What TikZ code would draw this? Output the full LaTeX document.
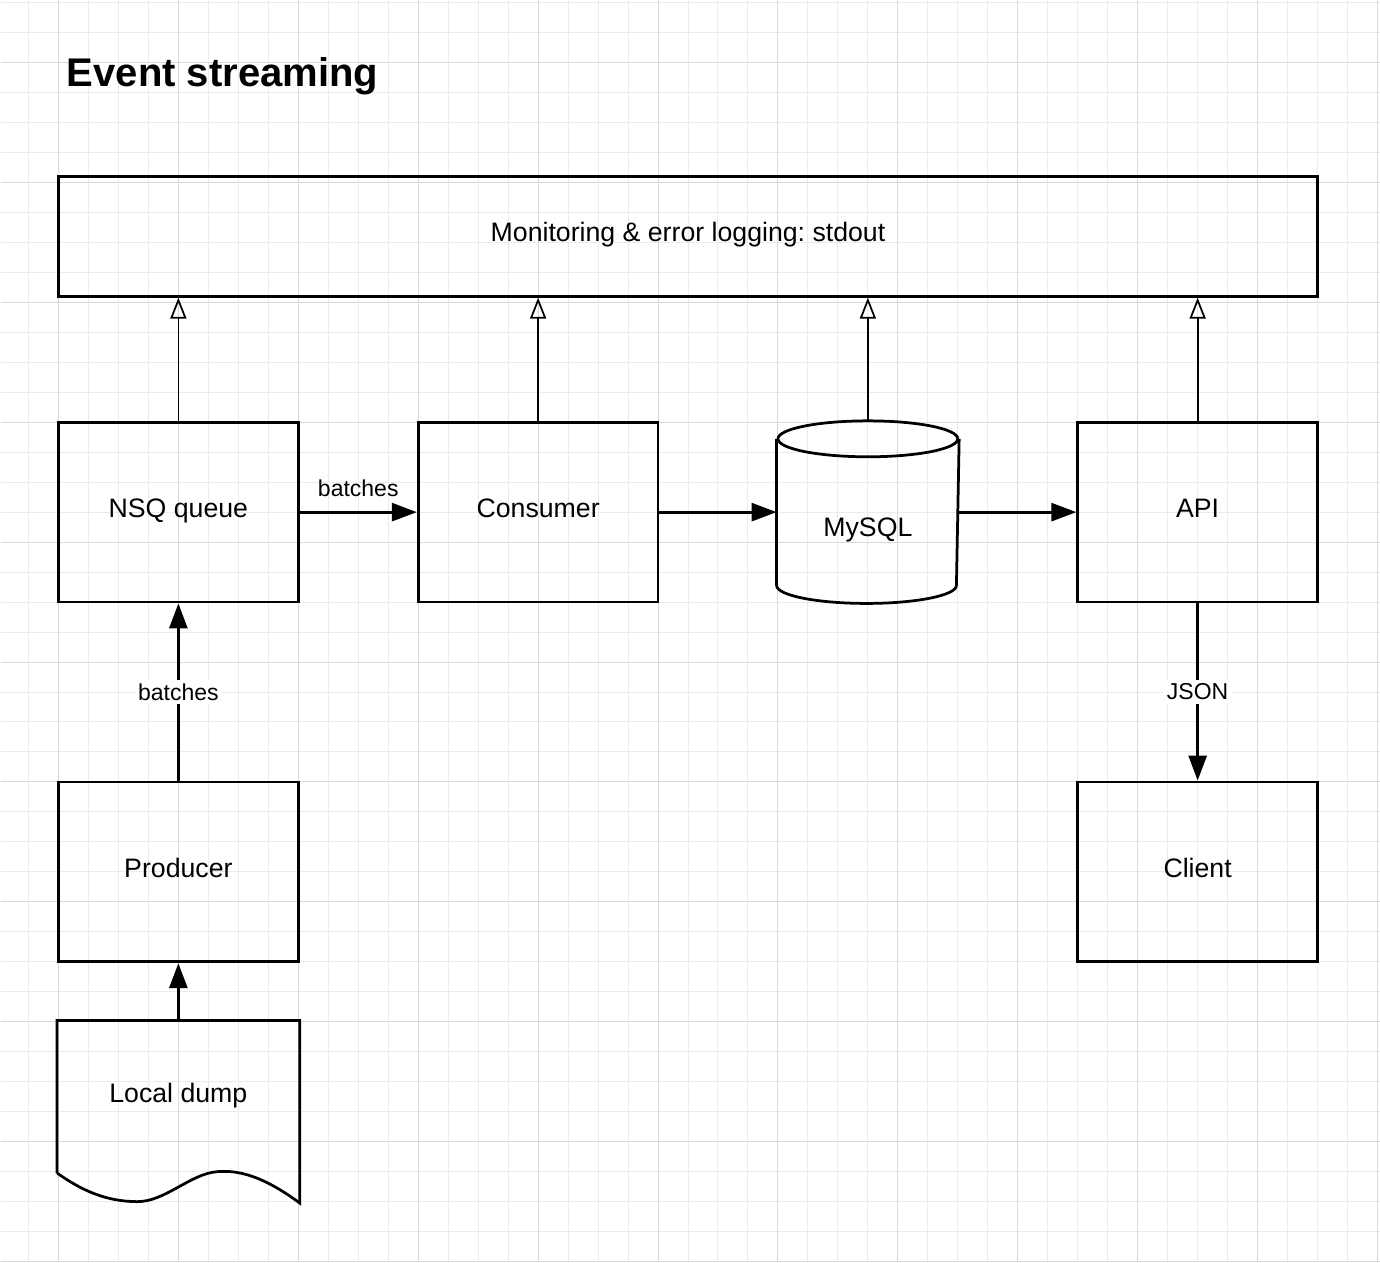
\documentclass[tikz,border=0pt]{standalone}
\usepackage{fontspec}
\setmainfont{Liberation Sans}
\usetikzlibrary{arrows.meta}
\frenchspacing
\begin{document}
\begin{tikzpicture}[x=0.02cm,y=-0.02cm,
	box/.style={draw,line width=0.055cm,minimum width=4.8cm,minimum height=3.6cm,inner sep=0pt,text height=0.38cm,text depth=0.16cm,font=\fontsize{15.2}{18}\selectfont},
	flow/.style={line width=0.055cm,-{Triangle[length=0.5cm,width=0.36cm]}},
	logline/.style={line width=0.035cm,-{Triangle[open,length=0.42cm,width=0.32cm]}},
	tagtext/.style={font=\fontsize{13.1}{16}\selectfont,inner sep=2pt},
	minorgrid/.style={line width=0.02cm,color=black!8},
	majorgrid/.style={line width=0.02cm,color=black!15}]
	%grid
	\foreach \gx in {28,58,...,1378} \draw[minorgrid] (\gx,0) -- (\gx,1262);
	\foreach \gy in {2,32,...,1262} \draw[minorgrid] (0,\gy) -- (1380,\gy);
	\foreach \gx in {58,178,...,1378} \draw[majorgrid] (\gx,0) -- (\gx,1262);
	\foreach \gy in {62,182,...,1262} \draw[majorgrid] (0,\gy) -- (1380,\gy);
	\useasboundingbox (0,0) rectangle (1380,1262);

	%title
	\node[anchor=base west,inner sep=0pt,font=\bfseries\fontsize{22.8}{27}\selectfont] (title) at (66,86) {Event streaming};

	%boxes
	\node[box,minimum width=25.2cm,minimum height=2.4cm] (monitor) at (688,236) {Monitoring \& error logging: stdout};
	\node[box] (nsq) at (178,512) {NSQ queue};
	\node[box] (consumer) at (538,512) {Consumer};
	\node[box,draw=none,minimum width=3.6cm,text height=0.98cm,text depth=0pt] (db) at (868,512) {MySQL};
	\node[box] (api) at (1198,512) {API};
	\node[box] (producer) at (178,872) {Producer};
	\node[box] (client) at (1198,872) {Client};
	\node[box,draw=none,minimum height=3cm] (dump) at (178,1097) {Local dump};

	%database cylinder
	\draw[line width=0.055cm] ([yshift=-0.36cm]db.north west) -- ([yshift=0.36cm]db.south west)
	  arc[start angle=180,end angle=360,x radius=1.8cm,y radius=0.36cm] -- ([yshift=-0.36cm]db.north east);
	\draw[line width=0.055cm] ([yshift=-0.36cm]db.north) ellipse[x radius=1.8cm,y radius=0.36cm];

	%document with wavy bottom
	\draw[line width=0.055cm] (dump.south west) -- (dump.north west) -- (dump.north east) -- ([yshift=-0.6cm]dump.south east)
	  .. controls (265,1178) and (240,1170) .. (217,1172) .. controls (190,1174) and (165,1202) .. (137,1202)
	  .. controls (105,1202) and (80,1190) .. (dump.south west);

	%data flow
	\draw[flow] (dump) -- (producer);
	\draw[flow] (producer) -- node[tagtext,fill=white] (lblproducer) {batches} (nsq);
	\draw[flow] (nsq) -- node[tagtext,above=0.22cm] (lblnsq) {batches} (consumer);
	\draw[flow] (consumer) -- (db);
	\draw[flow] (db) -- (api);
	\draw[flow] (api) -- node[tagtext,fill=white] (lblapi) {JSON} (client);

	%logging
	\draw[logline] (nsq.north) -- (nsq.north |- monitor.south);
	\draw[logline] (consumer.north) -- (consumer.north |- monitor.south);
	\draw[logline] (db.north) -- (db.north |- monitor.south);
	\draw[logline] (api.north) -- (api.north |- monitor.south);
\end{tikzpicture}
\end{document}
